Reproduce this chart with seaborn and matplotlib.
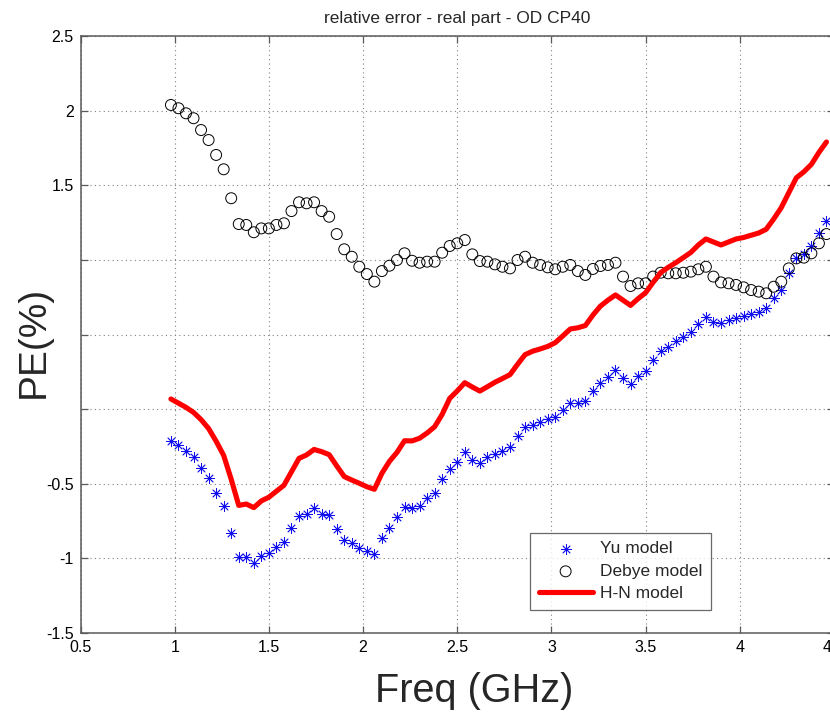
import matplotlib
matplotlib.use("Agg")
import matplotlib.pyplot as plt
import seaborn as sns
import pandas as pd

# Frequency sweep (GHz)
freq = [0.98, 1.02, 1.06, 1.10, 1.14, 1.18, 1.22, 1.26, 1.30, 1.34,
        1.38, 1.42, 1.46, 1.50, 1.54, 1.58, 1.62, 1.66, 1.70, 1.74,
        1.78, 1.82, 1.86, 1.90, 1.94, 1.98, 2.02, 2.06, 2.10, 2.14,
        2.18, 2.22, 2.26, 2.30, 2.34, 2.38, 2.42, 2.46, 2.50, 2.54,
        2.58, 2.62, 2.66, 2.70, 2.74, 2.78, 2.82, 2.86, 2.90, 2.94,
        2.98, 3.02, 3.06, 3.10, 3.14, 3.18, 3.22, 3.26, 3.30, 3.34,
        3.38, 3.42, 3.46, 3.50, 3.54, 3.58, 3.62, 3.66, 3.70, 3.74,
        3.78, 3.82, 3.86, 3.90, 3.94, 3.98, 4.02, 4.06, 4.10, 4.14,
        4.18, 4.22, 4.26, 4.30, 4.34, 4.38, 4.42, 4.46]

# Relative error of the real part (%), one value per frequency
yu_model = [-0.211, -0.240, -0.281, -0.323, -0.393, -0.460, -0.564, -0.649, -0.832, -0.993,
            -0.989, -1.029, -0.982, -0.962, -0.922, -0.892, -0.794, -0.716, -0.705, -0.665,
            -0.705, -0.709, -0.803, -0.877, -0.899, -0.933, -0.951, -0.971, -0.866, -0.794,
            -0.721, -0.658, -0.660, -0.649, -0.598, -0.564, -0.470, -0.404, -0.352, -0.290,
            -0.341, -0.363, -0.319, -0.301, -0.279, -0.252, -0.180, -0.118, -0.106, -0.084,
            -0.068, -0.051, -0.006, 0.039, 0.043, 0.056, 0.121, 0.177, 0.217, 0.262,
            0.207, 0.168, 0.224, 0.258, 0.329, 0.389, 0.418, 0.456, 0.485, 0.519,
            0.570, 0.619, 0.586, 0.575, 0.597, 0.613, 0.624, 0.635, 0.653, 0.675,
            0.742, 0.798, 0.910, 1.010, 1.037, 1.093, 1.182, 1.260]

debye_model = [2.038, 2.016, 1.982, 1.949, 1.870, 1.803, 1.703, 1.607, 1.413, 1.240,
               1.234, 1.185, 1.211, 1.211, 1.234, 1.245, 1.327, 1.386, 1.379, 1.386,
               1.327, 1.289, 1.173, 1.071, 1.021, 0.954, 0.905, 0.854, 0.925, 0.961,
               0.999, 1.044, 0.994, 0.981, 0.988, 0.988, 1.048, 1.093, 1.111, 1.133,
               1.037, 0.992, 0.988, 0.970, 0.954, 0.943, 0.999, 1.021, 0.981, 0.966,
               0.950, 0.937, 0.954, 0.966, 0.925, 0.899, 0.939, 0.959, 0.966, 0.981,
               0.888, 0.825, 0.843, 0.843, 0.888, 0.914, 0.910, 0.910, 0.914, 0.921,
               0.937, 0.954, 0.888, 0.849, 0.843, 0.832, 0.816, 0.798, 0.787, 0.776,
               0.820, 0.854, 0.943, 1.010, 1.015, 1.044, 1.111, 1.173]

hn_model = [0.068, 0.040, 0.012, -0.022, -0.070, -0.130, -0.215, -0.310, -0.470, -0.645,
            -0.636, -0.660, -0.615, -0.590, -0.550, -0.510, -0.420, -0.330, -0.307, -0.270,
            -0.285, -0.305, -0.380, -0.452, -0.475, -0.497, -0.520, -0.537, -0.430, -0.350,
            -0.290, -0.212, -0.213, -0.195, -0.160, -0.118, -0.035, 0.072, 0.122, 0.177,
            0.148, 0.121, 0.150, 0.180, 0.205, 0.231, 0.300, 0.365, 0.388, 0.403,
            0.420, 0.445, 0.490, 0.537, 0.545, 0.560, 0.630, 0.690, 0.730, 0.765,
            0.730, 0.695, 0.740, 0.780, 0.850, 0.915, 0.950, 0.981, 1.015, 1.050,
            1.100, 1.140, 1.120, 1.100, 1.120, 1.140, 1.150, 1.165, 1.180, 1.205,
            1.274, 1.350, 1.450, 1.550, 1.590, 1.640, 1.720, 1.790]

x_ticks = [0.5, 1, 1.5, 2, 2.5, 3, 3.5, 4, 4.5]
x_tick_labels = ["0.5", "1", "1.5", "2", "2.5", "3", "3.5", "4", "4.5"]
y_ticks = [-1.5, -1, -0.5, 0, 0.5, 1, 1.5, 2, 2.5]
y_tick_labels = ["-1.5", "-1", "-0.5", "", "", "", "1.5", "2", "2.5"]

df = pd.DataFrame({"freq": freq, "yu": yu_model, "debye": debye_model, "hn": hn_model})

sns.set_theme(style="white")
plt.rcParams["font.family"] = ["Liberation Sans", "DejaVu Sans"]

fig = plt.figure(figsize=(8.30, 7.12), dpi=100)
ax = fig.add_axes([80.5 / 830, 79 / 712, 753.5 / 830, 597 / 712])

sns.scatterplot(data=df, x="freq", y="yu", ax=ax, marker=(8, 2, 0), s=50,
                color="#1010ee", edgecolor="#1010ee", linewidth=0.6,
                label="Yu model", zorder=3)
sns.scatterplot(data=df, x="freq", y="debye", ax=ax, marker="o", s=62,
                facecolor="none", edgecolor="black", linewidth=0.7,
                label="Debye model", zorder=3)
sns.lineplot(data=df, x="freq", y="hn", ax=ax, color="#ff0000", linewidth=3.7,
             label="H-N model", zorder=4)

ax.set_xlim(0.5, 4.5)
ax.set_ylim(-1.5, 2.5)
ax.set_xticks(x_ticks)
ax.set_xticklabels(x_tick_labels)
ax.set_yticks(y_ticks)
ax.set_yticklabels(y_tick_labels)

ax.grid(True, color="#808080", linestyle=(0, (1, 3)), linewidth=0.8)
ax.set_axisbelow(True)
for side in ["left", "bottom", "top", "right"]:
    ax.spines[side].set_color("#5a5a5a")
    ax.spines[side].set_linewidth(1.1)
ax.tick_params(axis="both", direction="in", length=5, width=0.9, color="#5a5a5a",
               labelsize=11.5, labelcolor="black", top=True, right=True,
               bottom=True, left=True)
ax.tick_params(axis="x", pad=5)
ax.tick_params(axis="y", pad=5)

ax.set_title("relative error - real part - OD CP40", fontsize=12.5, pad=9)
ax.set_xlabel("Freq (GHz)", fontsize=28.5)
ax.set_ylabel("PE(%)", fontsize=28)
ax.xaxis.set_label_coords(0.522, -0.066)
ax.yaxis.set_label_coords(-0.038, 0.487)

leg = ax.legend(loc="lower left", bbox_to_anchor=(0.5966, 0.0385), fontsize=12.5,
                frameon=True, fancybox=False, edgecolor="#444444",
                handlelength=3.1, handletextpad=0.45, labelspacing=0.42,
                borderpad=0.5, borderaxespad=0)
leg.get_frame().set_linewidth(0.9)

fig.savefig("out.png", dpi=100)
